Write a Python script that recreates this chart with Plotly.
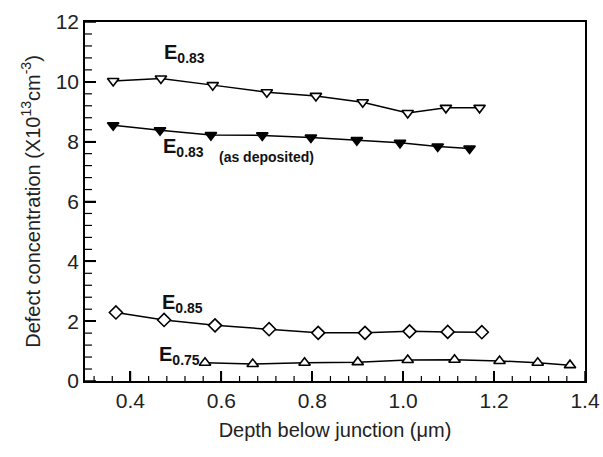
import plotly.graph_objects as go

# Depth below junction (um) and defect concentration (x10^13 cm^-3)
x_e083 = [0.362, 0.467, 0.581, 0.700, 0.808, 0.911, 1.010, 1.094, 1.168]
y_e083 = [10.03, 10.11, 9.89, 9.65, 9.53, 9.32, 8.96, 9.13, 9.13]

x_e083_dep = [0.362, 0.465, 0.577, 0.690, 0.797, 0.898, 0.993, 1.076, 1.146]
y_e083_dep = [8.55, 8.38, 8.22, 8.21, 8.14, 8.05, 7.96, 7.84, 7.77]

x_e085 = [0.368, 0.474, 0.586, 0.705, 0.813, 0.916, 1.014, 1.098, 1.173]
y_e085 = [2.29, 2.04, 1.86, 1.73, 1.61, 1.61, 1.66, 1.64, 1.63]

x_e075 = [0.564, 0.669, 0.783, 0.900, 1.010, 1.113, 1.212, 1.296, 1.367]
y_e075 = [0.61, 0.57, 0.61, 0.63, 0.70, 0.71, 0.67, 0.61, 0.53]

# axis ticks
x_major = [0.4, 0.6, 0.8, 1.0, 1.2, 1.4]
x_minor = [0.32, 0.36, 0.44, 0.48, 0.52, 0.56, 0.64, 0.68, 0.72, 0.76, 0.84, 0.88,
           0.92, 0.96, 1.04, 1.08, 1.12, 1.16, 1.24, 1.28, 1.32, 1.36]
y_major = [0, 2, 4, 6, 8, 10, 12]
y_minor = [0.4, 0.8, 1.2, 1.6, 2.4, 2.8, 3.2, 3.6, 4.4, 4.8, 5.2, 5.6, 6.4, 6.8,
           7.2, 7.6, 8.4, 8.8, 9.2, 9.6, 10.4, 10.8, 11.2, 11.6]

x_range = [0.3, 1.4]
y_range = [0, 12]

FONT = "Liberation Sans, Arial, sans-serif"
LINE = dict(color="black", width=1.5)

fig = go.Figure()

def add(xs, ys, symbol, fill):
    fig.add_trace(go.Scatter(
        x=xs, y=ys, mode="lines+markers", line=LINE,
        marker=dict(symbol=symbol, size=10, color=fill,
                    line=dict(color="black", width=1.6)),
        showlegend=False, cliponaxis=False))

add(x_e083, y_e083, "triangle-down", "white")
add(x_e083_dep, y_e083_dep, "triangle-down", "black")
add(x_e085, y_e085, "diamond", "white")
add(x_e075, y_e075, "triangle-up", "white")

def lab(x, y, text, size=20):
    fig.add_annotation(x=x, y=y, xref="x", yref="y", text=text, showarrow=False,
                       xanchor="left", yanchor="middle",
                       font=dict(family=FONT, size=size, color="#111"))

lab(0.470, 10.95, "<b>E<sub>0.83</sub></b>")
lab(0.467, 7.8, "<b>E<sub>0.83</sub></b>")
lab(0.590, 7.5, "<b>(as deposited)</b>", size=14)
lab(0.465, 2.6, "<b>E<sub>0.85</sub></b>")
lab(0.459, 0.85, "<b>E<sub>0.75</sub></b>")

# inside tick marks drawn as pixel-length shapes anchored on the axes
def xtick(v, length, width):
    fig.add_shape(type="line", xref="x", yref="y", x0=v, x1=v,
                  ysizemode="pixel", yanchor=y_range[0], y0=0, y1=length,
                  line=dict(color="black", width=width), layer="above")

def ytick(v, length, width):
    fig.add_shape(type="line", xref="x", yref="y", y0=v, y1=v,
                  xsizemode="pixel", xanchor=x_range[0], x0=0, x1=length,
                  line=dict(color="black", width=width), layer="above")

for v in x_major:
    xtick(v, 10, 1.5)
for v in x_minor:
    xtick(v, 5, 1.2)
for v in y_major:
    ytick(v, 11, 1.5)
for v in y_minor:
    ytick(v, 7, 1.2)

fig.update_layout(
    xaxis=dict(range=x_range, tickmode="array", tickvals=x_major, tickformat=".1f",
               ticks="inside", ticklen=10, tickwidth=1.5, tickcolor="black",
               showline=True, linecolor="black", linewidth=1.5, mirror=True,
               showgrid=False, zeroline=False, automargin=False,
               tickfont=dict(family=FONT, size=21, color="#222"),
               title=dict(text="Depth below junction (\u03bcm)",
                          font=dict(family=FONT, size=20, color="#222"), standoff=12)),
    yaxis=dict(range=y_range, tickmode="array", tickvals=y_major,
               ticks="inside", ticklen=11, tickwidth=1.5, tickcolor="black",
               showline=True, linecolor="black", linewidth=1.5, mirror=True,
               showgrid=False, zeroline=False, automargin=False,
               tickfont=dict(family=FONT, size=21, color="#222"),
               title=dict(text="Defect concentration (X10<sup>13</sup>cm<sup>-3</sup>)",
                          font=dict(family=FONT, size=20, color="#222"), standoff=10)),
    width=603, height=457, margin=dict(l=85, r=18, t=22, b=76),
    plot_bgcolor="white", paper_bgcolor="white")

fig.write_html("out.html", config={"displayModeBar": False},
               post_script="document.body.style.margin='0';")
